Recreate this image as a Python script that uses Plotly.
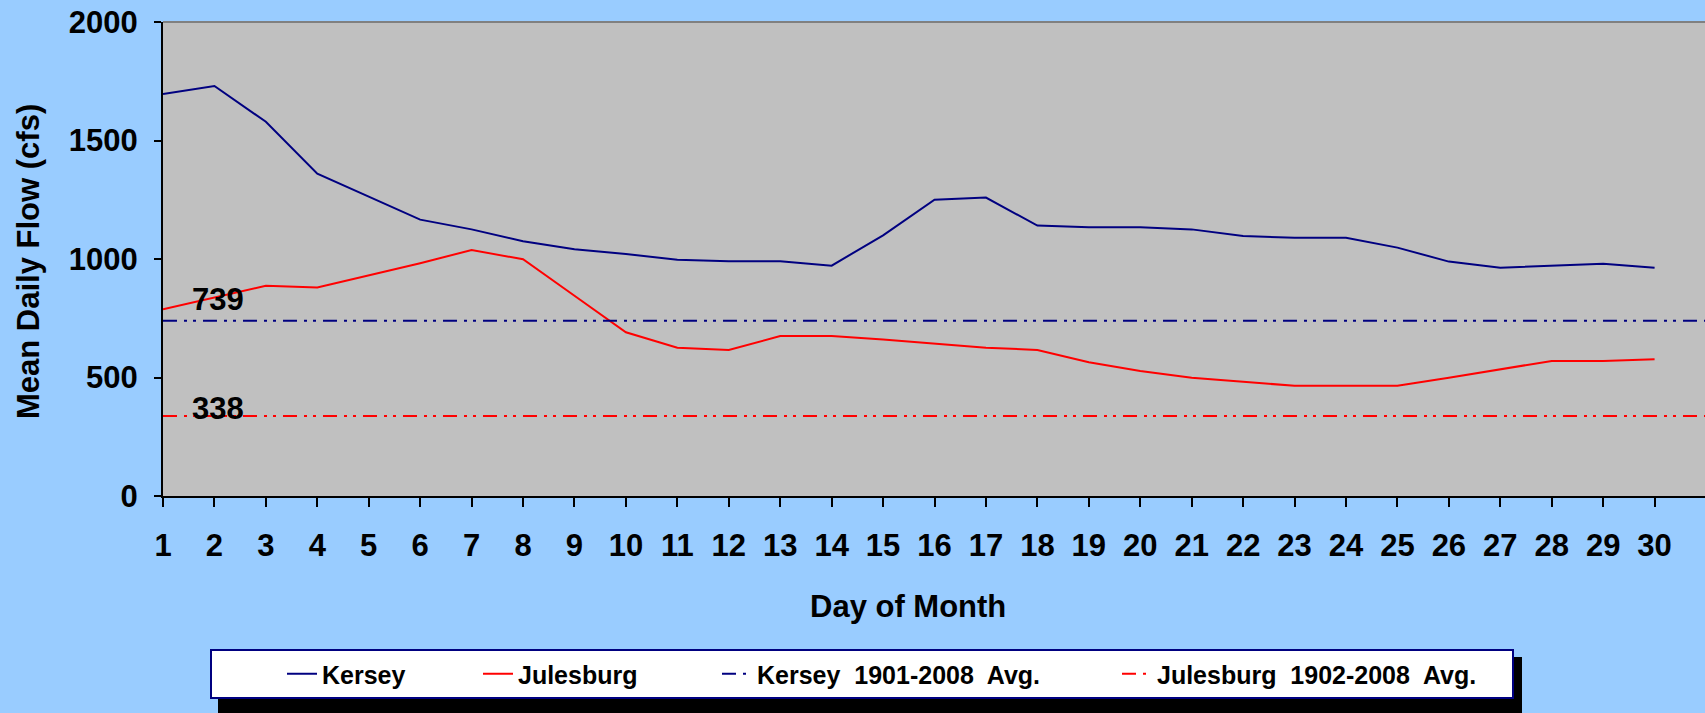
import plotly.graph_objects as go

days = list(range(1, 31))
kersey = [1696, 1730, 1579, 1360, 1263, 1166, 1125, 1075, 1041, 1021,
          997, 990, 990, 972, 1100, 1250, 1259, 1141, 1134, 1134,
          1125, 1097, 1090, 1090, 1048, 989, 963, 972, 980, 963]
julesburg = [788, 837, 887, 880, 931, 982, 1038, 999, 845, 691,
             626, 616, 675, 675, 660, 643, 626, 616, 564, 527,
             499, 482, 465, 465, 465, 499, 534, 570, 570, 577]
kersey_avg = 739
julesburg_avg = 338
avg_span = [1, 31]
y_ticks = [0, 500, 1000, 1500, 2000]
names = ["Kersey", "Julesburg", "Kersey\u00a0 1901-2008\u00a0 Avg.", "Julesburg\u00a0 1902-2008\u00a0 Avg."]

NAVY = "#000080"
RED = "#FF0000"
FONT = "Liberation Sans, Arial, sans-serif"
DASH = "14px,7px,3px,6px,3px,7px"

fig = go.Figure()
fig.add_trace(go.Scatter(x=days, y=kersey, mode="lines", name=names[0],
                         line=dict(color=NAVY, width=2), legendwidth=81))
fig.add_trace(go.Scatter(x=days, y=julesburg, mode="lines", name=names[1],
                         line=dict(color=RED, width=2), legendwidth=124))
fig.add_trace(go.Scatter(x=avg_span, y=[kersey_avg] * len(avg_span), mode="lines", name=names[2],
                         line=dict(color=NAVY, width=2, dash=DASH), legendwidth=285))
fig.add_trace(go.Scatter(x=avg_span, y=[julesburg_avg] * len(avg_span), mode="lines", name=names[3],
                         line=dict(color=RED, width=2, dash=DASH), legendwidth=350))

W, H = 1705, 713
L, R, T, B = 163, 0, 22, 217
pw, ph = W - L - R, H - T - B

def px_x(px):
    return (px - L) / pw

def px_y(py):
    return (H - B - py) / ph

fig.update_layout(
    width=W, height=H,
    margin=dict(l=L, r=R, t=T, b=B, pad=0, autoexpand=False),
    paper_bgcolor="#99CCFF",
    plot_bgcolor="#C0C0C0",
    font=dict(family=FONT, size=31, color="black", weight="bold"),
    showlegend=True,
    legend=dict(orientation="h", x=px_x(210), xanchor="left", y=px_y(649), yanchor="top",
                bgcolor="white", bordercolor=NAVY, borderwidth=2,
                font=dict(size=25, family=FONT, color="black", weight="bold"),
                indentation=70, traceorder="normal"),
    xaxis=dict(range=[1, 30.98], tickmode="array", tickvals=days, ticktext=[str(d) for d in days],
               automargin=False,
               showgrid=False, zeroline=False, showline=True, linecolor="black", linewidth=2,
               ticks="outside", ticklen=9, tickwidth=2, tickcolor="black",
               ticklabelstandoff=12, tickfont=dict(size=31, family=FONT, weight="bold")),
    yaxis=dict(range=[0, 2000], tickmode="array", tickvals=y_ticks,
               automargin=False,
               showgrid=False, zeroline=False, showline=True, linecolor="black", linewidth=2,
               ticks="outside", ticklen=7, tickwidth=2, tickcolor="black",
               ticklabelstandoff=10, tickfont=dict(size=31, family=FONT, weight="bold")),
    shapes=[
        dict(type="line", xref="paper", yref="paper", x0=0, x1=1, y0=1, y1=1,
             line=dict(color="#808080", width=2), layer="above"),
        dict(type="rect", xref="paper", yref="paper",
             x0=px_x(218), x1=px_x(1522), y0=px_y(657), y1=px_y(715),
             fillcolor="black", line=dict(width=0), layer="above"),
    ],
    annotations=[
        dict(text="Day of Month", xref="paper", yref="paper", x=px_x(908), y=px_y(606),
             xanchor="center", yanchor="middle", showarrow=False,
             font=dict(size=31, family=FONT, weight="bold")),
        dict(text="Mean Daily Flow (cfs)", xref="paper", yref="paper", x=px_x(28.5), y=px_y(261.5),
             xanchor="center", yanchor="middle", textangle=-90, showarrow=False,
             font=dict(size=31, family=FONT, weight="bold")),
        dict(text=str(kersey_avg), x=2, y=kersey_avg, xshift=4, yshift=21,
             xanchor="center", yanchor="middle", showarrow=False,
             font=dict(size=31, family=FONT, weight="bold")),
        dict(text=str(julesburg_avg), x=2, y=julesburg_avg, xshift=4, yshift=7,
             xanchor="center", yanchor="middle", showarrow=False,
             font=dict(size=31, family=FONT, weight="bold")),
    ],
)

fig.write_html("out.html", config={"displayModeBar": False},
               post_script="document.body.style.margin='0';document.body.style.overflow='hidden';")
